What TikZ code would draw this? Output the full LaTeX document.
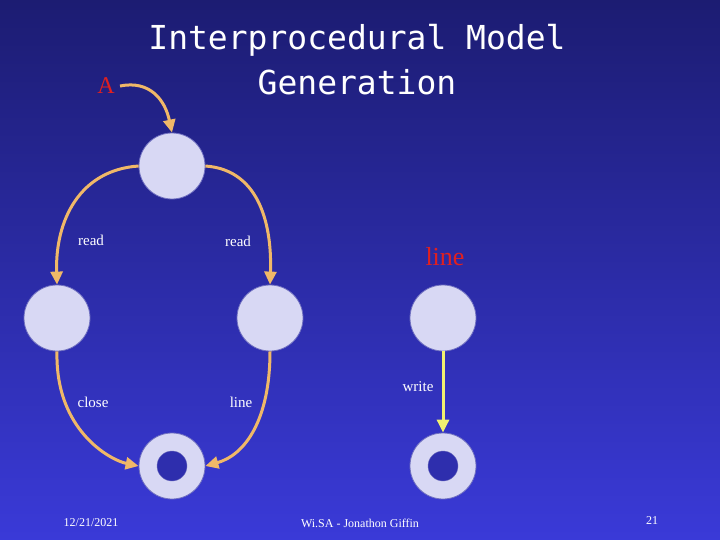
\documentclass[tikz,border=0pt]{standalone}
\usepackage{fontspec}
\setsansfont{DejaVu Sans}
\setmonofont{DejaVu Sans Mono}
\setmainfont{Liberation Serif}
\usetikzlibrary{arrows.meta}
\definecolor{bgtop}{HTML}{1C1C72}
\definecolor{bgbot}{HTML}{3A3AD8}
\definecolor{circ}{HTML}{D8D8F4}
\definecolor{edge}{HTML}{7070C0}
\definecolor{arr}{HTML}{F0B868}
\definecolor{yel}{HTML}{F0F070}
\definecolor{lab}{HTML}{E02020}
\tikzset{st/.style={circle,fill=circ,draw=edge,line width=0.8pt,minimum size=66pt,inner sep=0pt},
 hole/.style={circle,fill=bgbot!80!black,draw=edge,minimum size=30pt,inner sep=0pt},
 ar/.style={draw=arr,line width=3pt,-{Triangle[length=13pt,width=12pt]}},
 tl/.style={text=white,font=\rmfamily\fontsize{15}{15}\selectfont}}
\begin{document}
\begin{tikzpicture}[x=1pt,y=-1pt]
\shade[top color=bgtop,bottom color=bgbot] (0,0) rectangle (720,540);
\useasboundingbox (0,0) rectangle (720,540);
\node[text=white,font=\ttfamily\fontsize{33}{45}\selectfont,align=center] (title) at (357,60) {Interprocedural Model\\Generation};
\node[text=lab,font=\rmfamily\fontsize{24}{24}\selectfont] (A) at (106,86) {A};
\node[st] (t) at (172,166) {};
\node[st] (l) at (57,318) {};
\node[st] (m) at (270,318) {};
\node[st] (r) at (443,318) {};
\node[st] (fl) at (172,466) {};
\node[hole] at (fl) {};
\node[st] (fr) at (443,466) {};
\node[hole] at (fr) {};
\coordinate (a0) at (120,86);
\draw[ar] (a0) .. controls (150,80) and (165,100) .. (t.north);
\draw[ar] (t.west) .. controls (80,170) and (55,220) .. (l.north);
\draw[ar] (t.east) .. controls (262,170) and (272,230) .. (m.north);
\draw[ar] (l.south) .. controls (55,430) and (110,460) .. (fl.west);
\draw[ar] (m.south) .. controls (270,420) and (245,455) .. (fl.east);
\draw[draw=yel,line width=3pt,-{Triangle[length=13pt,width=12pt]}] (r.south) -- (fr.north);
\node[tl] (r1) at (91,240) {read};
\node[tl] (r2) at (238,241) {read};
\node[text=lab,font=\rmfamily\fontsize{26}{26}\selectfont] (ln) at (445,257) {line};
\node[tl] (c) at (93,402) {close};
\node[tl] (l2) at (241,402) {line};
\node[tl] (w) at (418,387) {write};
\node[text=white,font=\rmfamily\fontsize{12}{12}\selectfont] (d) at (91,523) {12/21/2021};
\node[text=white,font=\rmfamily\fontsize{12}{12}\selectfont] (f) at (360,523) {Wi.SA - Jonathon Giffin};
\node[text=white,font=\rmfamily\fontsize{12}{12}\selectfont] (n) at (652,521) {21};
\end{tikzpicture}
\end{document}
